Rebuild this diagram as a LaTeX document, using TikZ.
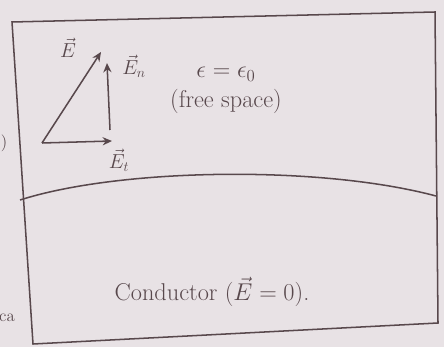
\documentclass[tikz,border=0pt]{standalone}
\usepackage{amsmath}
\usetikzlibrary{arrows.meta,positioning}
\definecolor{inkgray}{RGB}{88,72,76}
\definecolor{paperpink}{RGB}{232,226,229}
\tikzset{
  ink/.style={draw=inkgray,line width=1.3pt},
  vec/.style={ink,-{Stealth[length=8pt,width=7pt]}},
  lbl/.style={text=inkgray,inner sep=1pt},
}
\begin{document}
\begin{tikzpicture}[x=0.3mm,y=-0.3mm,font=\huge]
  \fill[paperpink] (0,0) rectangle (444,347);
  \useasboundingbox (0,0) rectangle (444,347);
  % outer box
  \coordinate (tl) at (12,22);
  \coordinate (tr) at (435,12);
  \coordinate (br) at (438,323);
  \coordinate (bl) at (33,344);
  \draw[ink] (tl) -- (tr) -- (br) -- (bl) -- cycle;
  % interface between free space and conductor
  \coordinate (il) at (20,200);
  \coordinate (ir) at (436,196);
  \draw[ink] (il) .. controls (120,168) and (320,165) .. (ir);
  % field triangle
  \coordinate (o) at (42,143);
  \coordinate (et) at (112,141);
  \coordinate (en0) at (110,130);
  \coordinate (en) at (107,63);
  \coordinate (e) at (101,52);
  \draw[vec] (o) -- (e);
  \draw[vec] (o) -- (et);
  \draw[vec] (en0) -- (en);
  \node[lbl,font=\LARGE] (le) at (68,48) {$\vec{E}$};
  \node[lbl,font=\LARGE] (len) at (134,66) {$\vec{E}_n$};
  \node[lbl,font=\LARGE] (let) at (119,160) {$\vec{E}_t$};
  % region labels
  \node[lbl] (eps) at (226,74) {$\epsilon=\epsilon_0$};
  \node[lbl] (free) at (226,101) {(free space)};
  \node[lbl] (cond) at (212,292) {Conductor $(\vec{E}=0)$.};
  % cut-off marks at the left edge
  \node[lbl,font=\Large] (cut1) at (4,143) {)};
  \node[lbl,font=\Large] (cut2) at (7,318) {ca};
\end{tikzpicture}
\end{document}
